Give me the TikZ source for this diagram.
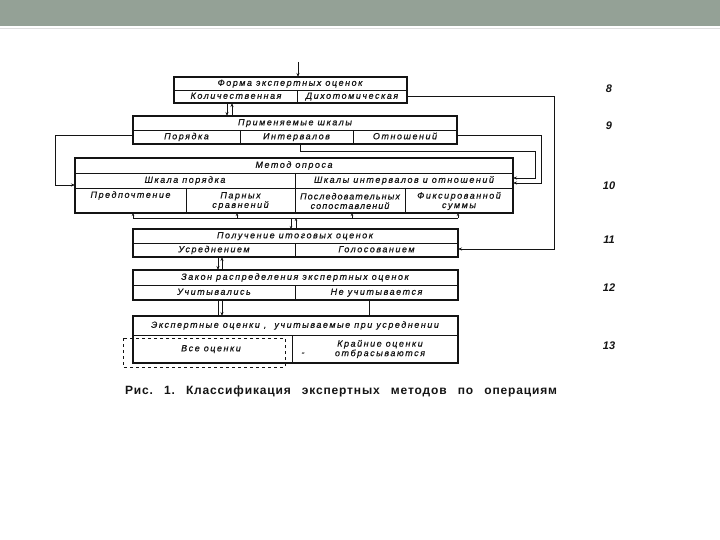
\documentclass[tikz,border=0pt]{standalone}
\usepackage{fontspec}
\setmainfont{Liberation Sans}
\newfontfamily\boxfont[LetterSpace=17,FakeBold=0.6]{Liberation Sans}
\newfontfamily\tightfont[LetterSpace=12,FakeBold=0.6]{Liberation Sans}
\newfontfamily\capfont[LetterSpace=7]{Liberation Sans}
\usetikzlibrary{arrows.meta}
\definecolor{band}{RGB}{148,161,150}
\definecolor{ink}{RGB}{20,20,20}
\tikzset{
  box/.style={draw=ink, line width=1.6pt, rectangle, anchor=north west, inner sep=0pt, outer sep=0pt},
  div/.style={draw=ink, line width=0.8pt},
  celltext/.style={font=\boxfont\itshape\fontsize{9}{9.5}\selectfont, text=ink, inner sep=0pt, align=center},
  cell/.style={celltext, text height=6.4pt, text depth=1.8pt},
  conn/.style={draw=ink, line width=0.8pt},
  arr/.style={-{Stealth[length=4pt,width=3pt]}},
  num/.style={font=\itshape\bfseries\fontsize{11}{11}\selectfont, text=ink},
}
\begin{document}
\begin{tikzpicture}[x=1pt,y=-1pt]
\useasboundingbox (0,0) rectangle (720,540);
% top band
\fill[band] (0,0) rectangle (720,26);
\draw[gray!25, line width=1pt] (0,28.5) -- (720,28.5);

% ---------- box 8
\node[box, minimum width=233pt, minimum height=26pt] (b8) at (174,77) {};
\draw[div] (174,90) -- (407,90);
\draw[div] (297,90) -- (297,103);
\node[cell] (t8) at (290,83.5) {Форма экспертных оценок};
\node[cell] (t8a) at (236,96.5) {Количественная};
\node[cell] (t8b) at (352,96.5) {Дихотомическая};

% ---------- box 9
\node[box, minimum width=324pt, minimum height=28pt] (b9) at (133,116) {};
\draw[div] (133,130) -- (457,130);
\draw[div] (240,130) -- (240,144);
\draw[div] (353,130) -- (353,144);
\node[cell] (t9) at (295,123) {Применяемые шкалы};
\node[cell] (t9a) at (186.5,137) {Порядка};
\node[cell] (t9b) at (296.5,137) {Интервалов};
\node[cell] (t9c) at (405,137) {Отношений};

% ---------- box 10
\node[box, minimum width=438pt, minimum height=55pt] (b10) at (75,158) {};
\draw[div] (75,173) -- (513,173);
\draw[div] (75,188) -- (513,188);
\draw[div] (295,173) -- (295,213);
\draw[div] (186,188) -- (186,213);
\draw[div] (405,188) -- (405,213);
\node[cell] (t10) at (294,165.5) {Метод опроса};
\node[cell] (t10a) at (185,180.5) {Шкала порядка};
\node[cell] (t10b) at (404,180.5) {Шкалы интервалов и отношений};
\node[cell] (t10c) at (130.5,195.5) {Предпочтение};
\node[celltext] (t10d) at (240.5,201) {Парных\\сравнений};
\node[celltext, font=\tightfont\itshape\fontsize{9}{9.5}\selectfont] (t10e) at (350,201) {Последовательных\\сопоставлений};
\node[celltext] (t10f) at (459,201) {Фиксированной\\суммы};

% ---------- box 11
\node[box, minimum width=325pt, minimum height=28pt] (b11) at (133,229) {};
\draw[div] (133,243) -- (458,243);
\draw[div] (295,243) -- (295,257);
\node[cell] (t11) at (295,236) {Получение итоговых оценок};
\node[cell] (t11a) at (214,250) {Усреднением};
\node[cell] (t11b) at (376.5,250) {Голосованием};

% ---------- box 12
\node[box, minimum width=325pt, minimum height=30pt] (b12) at (133,270) {};
\draw[div] (133,285) -- (458,285);
\draw[div] (295,285) -- (295,300);
\node[cell] (t12) at (295,277.5) {Закон распределения экспертных оценок};
\node[cell] (t12a) at (214,292.5) {Учитывались};
\node[cell] (t12b) at (376.5,292.5) {Не учитывается};

% ---------- box 13
\node[box, minimum width=325pt, minimum height=47pt] (b13) at (133,316) {};
\draw[div] (133,335) -- (458,335);
\draw[div] (292,335) -- (292,363);
\draw[ink, line width=0.7pt, dashed] (123,338) rectangle (285,367);
\node[cell] (t13) at (295,325.5) {Экспертные оценки ,\ \ учитываемые при усреднении};
\node[cell] (t13a) at (211,349) {Все оценки};
\node[celltext] (t13b) at (380,349) {Крайние оценки\\отбрасываются};
\node[cell] (t13d) at (303,353) {-};

% ---------- numbers
\node[num] (n8) at (609,89) {8};
\node[num] (n9) at (609,126) {9};
\node[num] (n10) at (609,186) {10};
\node[num] (n11) at (609,240) {11};
\node[num] (n12) at (609,288) {12};
\node[num] (n13) at (609,346) {13};

% ---------- caption
\node[font=\capfont\bfseries\fontsize{12}{13}\selectfont, text=ink, inner sep=0pt] (cap) at (341,391)
  {\makebox[432pt][s]{Рис.\ 1.\ Классификация экспертных методов по операциям}};

% ---------- connectors
\coordinate (in8) at (298,62);
\draw[conn,arr] (in8) -- (in8 |- b8.north);

\coordinate (k1) at (227,110);
\coordinate (k2) at (232,110);
\draw[conn,arr] (k1 |- b8.south) -- (k1 |- b9.north);
\draw[conn,arr] (k2 |- b9.north) -- (k2 |- b8.south);

\coordinate (l1) at (55,185);
\draw[conn,arr] ([yshift=-5pt]b9.west) -| (l1) -- (l1 -| b10.west);

\coordinate (a1) at (541,183);
\draw[conn,arr] ([yshift=-5pt]b9.east) -| (a1) -- (a1 -| b10.east);
\coordinate (bb) at (300,144);
\coordinate (b1) at (535,151);
\coordinate (b2) at (535,178);
\draw[conn,arr] (bb) |- (b1) -- (b2) -- (b2 -| b10.east);

\coordinate (r1) at (554,249);
\draw[conn,arr] ([yshift=-6pt]b8.east) -| (r1) -- (r1 -| b11.east);

% bus under box 10
\coordinate (u1) at (133,218);
\coordinate (u2) at (237,218);
\coordinate (u3) at (352,218);
\coordinate (u4) at (458,218);
\draw[conn] (u1) -- (u4);
\foreach \u in {u1,u2,u3,u4} \draw[conn,-{Stealth[length=3pt,width=2.5pt]}] (\u) -- (\u |- b10.south);
\coordinate (m1) at (291,223);
\coordinate (m2) at (296,223);
\draw[conn,-{Stealth[length=3pt,width=2.5pt]}] (m1 |- u1) -- (m1 |- b11.north);
\draw[conn,-{Stealth[length=3pt,width=2.5pt]}] (m2 |- b11.north) -- (m2 |- u1);

% 11 <-> 12
\coordinate (p1) at (218,263);
\coordinate (p2) at (222,263);
\draw[conn,arr] (p1 |- b11.south) -- (p1 |- b12.north);
\draw[conn,arr] (p2 |- b12.north) -- (p2 |- b11.south);

% 12 -> 13
\coordinate (q1) at (218,308);
\coordinate (q2) at (222,308);
\coordinate (q3) at (369,308);
\draw[conn] (q1 |- b12.south) -- (q1 |- b13.north);
\draw[conn,arr] (q2 |- b12.south) -- (q2 |- b13.north);
\draw[conn] (q3 |- b12.south) -- (q3 |- b13.north);
\end{tikzpicture}
\end{document}
